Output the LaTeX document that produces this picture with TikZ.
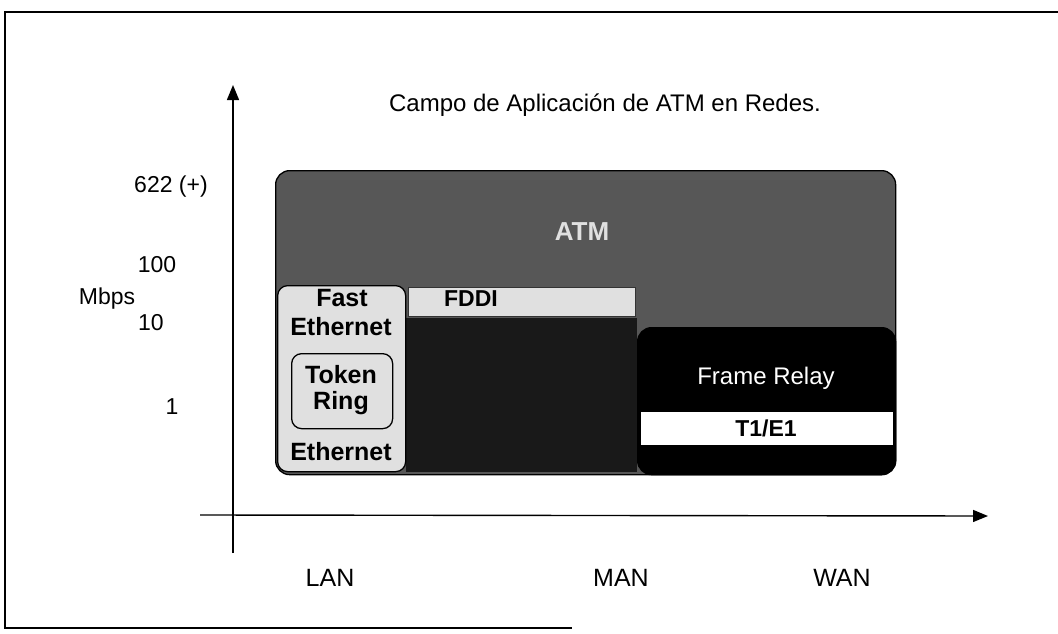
\documentclass[tikz,border=0pt]{standalone}
\usepackage{fontspec}
\setmainfont{Liberation Sans}
\usetikzlibrary{arrows.meta}
\begin{document}
\begin{tikzpicture}[x=1pt,y=-1pt,
  lbl/.style={font=\fontsize{23}{25}\selectfont, inner sep=0pt},
  blbl/.style={font=\fontsize{25}{26}\selectfont\bfseries, inner sep=0pt},
  axis/.style={line width=1.4pt, -{Triangle[length=15pt,width=12pt]}},
  region/.style={draw=black, line width=1.3pt, rounded corners=12pt}]
\useasboundingbox (0,0) rectangle (1058,634);
\fill[white] (0,0) rectangle (1058,634);
% frame
\draw[line width=1.4pt] (1058,12) -- (5,12) -- (5,628) -- (572,628);
% title
\node[lbl, font=\fontsize{24}{26}\selectfont] (title) at (605,105) {Campo de Aplicación de ATM en Redes.};
% regions
\node[region, fill=black!66, minimum width=620pt, minimum height=304pt, anchor=north west, rounded corners=14pt] (atm) at (275,170) {};
\fill[black!90] (406,318) rectangle (637,472);
\node[region, fill=black, minimum width=258pt, minimum height=147pt, anchor=north west, rounded corners=14pt] (fr) at (637,327) {};
\node[draw=black, line width=0.8pt, fill=white, minimum width=253pt, minimum height=34pt, anchor=north west, inner sep=0pt] (t1) at (640,411) {};
\node[region, fill=black!12, minimum width=128pt, minimum height=186pt, anchor=north west, rounded corners=10pt] (lan) at (277,285) {};
\node[region, fill=black!12, minimum width=101pt, minimum height=75pt, anchor=north west, rounded corners=10pt] (tr) at (291,353) {};
\node[draw=black!80, line width=1pt, fill=black!12, minimum width=227pt, minimum height=29pt, anchor=north west, inner sep=0pt] (fddi) at (408,287) {};
% texts in regions
\node[blbl, text=black!12, font=\fontsize{26}{28}\selectfont\bfseries] (atmt) at (582,232) {ATM};
\node[blbl] (fast) at (342,298) {Fast};
\node[blbl] (eth1) at (341,327) {Ethernet};
\node[blbl] (tok) at (341,375) {Token};
\node[blbl] (ring) at (341,403) {Ring};
\node[blbl] (eth2) at (341,452) {Ethernet};
\node[blbl, font=\fontsize{23}{25}\selectfont\bfseries] (fddit) at (471,299) {FDDI};
\node[lbl, text=white, font=\fontsize{24}{26}\selectfont] (frt) at (766,378) {Frame Relay};
\node[blbl, font=\fontsize{23}{25}\selectfont\bfseries] (t1t) at (766,428) {T1/E1};
% axes
\coordinate (yb) at (233,553);
\coordinate (yt) at (233,85);
\coordinate (xl) at (200,515);
\coordinate (xr) at (988,516);
\draw[axis] (yb) -- (yt);
\draw[axis] (xl) -- (xr);
% axis labels
\node[lbl] (v622) at (171,187) {622 (+)};
\node[lbl] (v100) at (157,265) {100};
\node[lbl] (mbps) at (107,299) {Mbps};
\node[lbl] (v10) at (151,323) {10};
\node[lbl] (v1) at (172,407) {1};
\node[lbl, font=\fontsize{25}{27}\selectfont] (lan) at (330,578) {LAN};
\node[lbl, font=\fontsize{25}{27}\selectfont] (man) at (621,578) {MAN};
\node[lbl, font=\fontsize{25}{27}\selectfont] (wan) at (842,578) {WAN};
\end{tikzpicture}
\end{document}
